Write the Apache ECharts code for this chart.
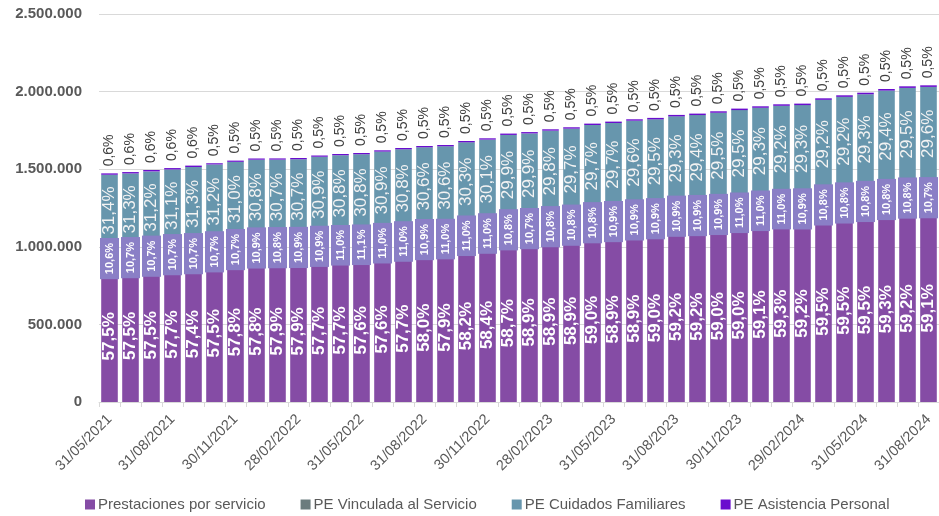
<!DOCTYPE html>
<html>
<head>
<meta charset="utf-8">
<script src="https://cdn.jsdelivr.net/npm/echarts@6/dist/echarts.min.js"></script>
<style>
html,body{margin:0;padding:0;background:#fff;}
#chart{width:939px;height:516px;}
</style>
</head>
<body>
<div id="chart"></div>
<script>
// Categories (end of month)
const categories = [
  "31/05/2021","30/06/2021","31/07/2021","31/08/2021","30/09/2021","31/10/2021","30/11/2021","31/12/2021",
  "31/01/2022","28/02/2022","31/03/2022","30/04/2022","31/05/2022","30/06/2022","31/07/2022","31/08/2022",
  "30/09/2022","31/10/2022","30/11/2022","31/12/2022","31/01/2023","28/02/2023","31/03/2023","30/04/2023",
  "31/05/2023","30/06/2023","31/07/2023","31/08/2023","30/09/2023","31/10/2023","30/11/2023","31/12/2023",
  "31/01/2024","29/02/2024","31/03/2024","30/04/2024","31/05/2024","30/06/2024","31/07/2024","31/08/2024"
];

// Series values (persons)
const servicio = [
  846200,851000,859500,868800,874300,885400,899000,906900,909600,910200,
  916400,922000,924100,934100,944300,956700,958800,978700,992200,1016200,
  1024300,1034900,1043600,1058300,1064100,1074000,1081100,1096200,1100100,1106200,
  1115300,1127100,1137400,1139300,1164200,1175800,1184600,1195900,1204100,1207100
];
const vinculada = [
  156000,158400,159900,161100,163000,164800,166400,171000,169700,171300,
  173100,175800,178100,178400,180000,179800,182100,185000,186900,187000,
  186100,189800,191400,193700,196900,198800,199700,201800,202500,204400,
  207900,209800,211000,209800,211300,213400,215000,217800,219700,218500
];
const cuidados = [
  462100,463200,466400,468300,476700,480400,482100,483300,482300,482600,
  490800,492200,494100,501100,504000,504700,506700,509500,511400,517600,
  520000,523600,526200,532700,536600,539700,540600,542500,546300,553100,
  557700,558800,560100,563900,571400,577000,583300,592900,600000,604600
];
const asistencia = [
  8800,8900,9000,9000,9100,7700,7800,7800,7900,7900,
  7900,8000,8000,8100,8200,8200,8300,8400,8500,8700,
  8700,8800,8900,9000,9000,9100,9200,9300,9300,9400,
  9500,9500,9600,9600,9800,9900,10000,10100,10200,10200
];

// Share labels (%) as printed on the chart
const pctServicio = [
  57.5,57.5,57.5,57.7,57.4,57.5,57.8,57.8,57.9,57.9,
  57.7,57.7,57.6,57.6,57.7,58.0,57.9,58.2,58.4,58.7,
  58.9,58.9,58.9,59.0,58.9,58.9,59.0,59.2,59.2,59.0,
  59.0,59.1,59.3,59.2,59.5,59.5,59.5,59.3,59.2,59.1
];
const pctVinculada = [
  10.6,10.7,10.7,10.7,10.7,10.7,10.7,10.9,10.8,10.9,
  10.9,11.0,11.1,11.0,11.0,10.9,11.0,11.0,11.0,10.8,
  10.7,10.8,10.8,10.8,10.9,10.9,10.9,10.9,10.9,10.9,
  11.0,11.0,11.0,10.9,10.8,10.8,10.8,10.8,10.8,10.7
];
const pctCuidados = [
  31.4,31.3,31.2,31.1,31.3,31.2,31.0,30.8,30.7,30.7,
  30.9,30.8,30.8,30.9,30.8,30.6,30.6,30.3,30.1,29.9,
  29.9,29.8,29.7,29.7,29.7,29.6,29.5,29.3,29.4,29.5,
  29.5,29.3,29.2,29.3,29.2,29.2,29.3,29.4,29.5,29.6
];
const pctAsistencia = [
  0.6,0.6,0.6,0.6,0.6,0.5,0.5,0.5,0.5,0.5,
  0.5,0.5,0.5,0.5,0.5,0.5,0.5,0.5,0.5,0.5,
  0.5,0.5,0.5,0.5,0.5,0.5,0.5,0.5,0.5,0.5,
  0.5,0.5,0.5,0.5,0.5,0.5,0.5,0.5,0.5,0.5
];

const seriesNames = ["Prestaciones por servicio","PE Vinculada al Servicio","PE Cuidados Familiares","PE Asistencia Personal"];
const yTicks = { min: 0, max: 2500000, interval: 500000 };

const fmtPct = arr => p => arr[p.dataIndex].toFixed(1).replace('.', ',') + '%';
const fmtThousands = v => String(v).replace(/\B(?=(\d{3})+(?!\d))/g, '.');
const FONT = "'Liberation Sans', Arial, sans-serif";

const chart = echarts.init(document.getElementById('chart'), null, {renderer: 'canvas'});
chart.setOption({
  animation: false,
  backgroundColor: '#ffffff',
  textStyle: { fontFamily: FONT },
  grid: { left: 99, right: -3, top: 14, bottom: 114 },
  legend: {
    data: seriesNames,
    left: 80, top: 492,
    icon: 'rect', itemWidth: 10, itemHeight: 10, itemGap: 35,
    textStyle: { fontSize: 15, color: '#595959', fontFamily: FONT, padding: [0,0,0,-2] }
  },
  xAxis: {
    type: 'category',
    data: categories,
    axisLine: { lineStyle: { color: '#D9D9D9', width: 1 } },
    axisTick: { show: true, interval: 0, length: 5, lineStyle: { color: '#D9D9D9' } },
    axisLabel: { interval: 2, rotate: 45, margin: 15, fontSize: 14.5, color: '#595959', fontFamily: FONT }
  },
  yAxis: {
    type: 'value',
    min: yTicks.min, max: yTicks.max, interval: yTicks.interval,
    axisLine: { show: false }, axisTick: { show: false },
    splitLine: { lineStyle: { color: '#D9D9D9', width: 1 } },
    axisLabel: { formatter: fmtThousands, fontSize: 15, fontWeight: 'bold', color: '#595959', margin: 17, fontFamily: FONT }
  },
  series: [
    {
      name: seriesNames[0], type: 'bar', stack: 'total', data: servicio,
      barCategoryGap: '21%',
      itemStyle: { color: '#854CA5' },
      label: { show: true, position: 'inside', rotate: 90, formatter: fmtPct(pctServicio),
        color: '#ffffff', fontSize: 17, fontWeight: 'bold', fontFamily: FONT }
    },
    {
      name: seriesNames[1], type: 'bar', stack: 'total', data: vinculada,
      itemStyle: { color: '#6B7C7E' },
      label: { show: true, position: 'inside', rotate: 90, formatter: fmtPct(pctVinculada),
        color: '#ffffff', fontSize: 11, fontWeight: 'bold', fontFamily: FONT,
        backgroundColor: '#8A7FC6', padding: [4, 5], lineHeight: 11 }
    },
    {
      name: seriesNames[2], type: 'bar', stack: 'total', data: cuidados,
      itemStyle: { color: '#6796AD' },
      label: { show: true, position: 'inside', rotate: 90, formatter: fmtPct(pctCuidados),
        color: '#F2F2F2', fontSize: 17, fontFamily: FONT }
    },
    {
      name: seriesNames[3], type: 'bar', stack: 'total', data: asistencia,
      itemStyle: { color: '#6A0DCE' },
      label: { show: true, position: 'top', rotate: 90, align: 'left', verticalAlign: 'middle', distance: 7,
        formatter: fmtPct(pctAsistencia), color: '#404040', fontSize: 14, fontFamily: FONT }
    }
  ]
});
</script>
</body>
</html>
